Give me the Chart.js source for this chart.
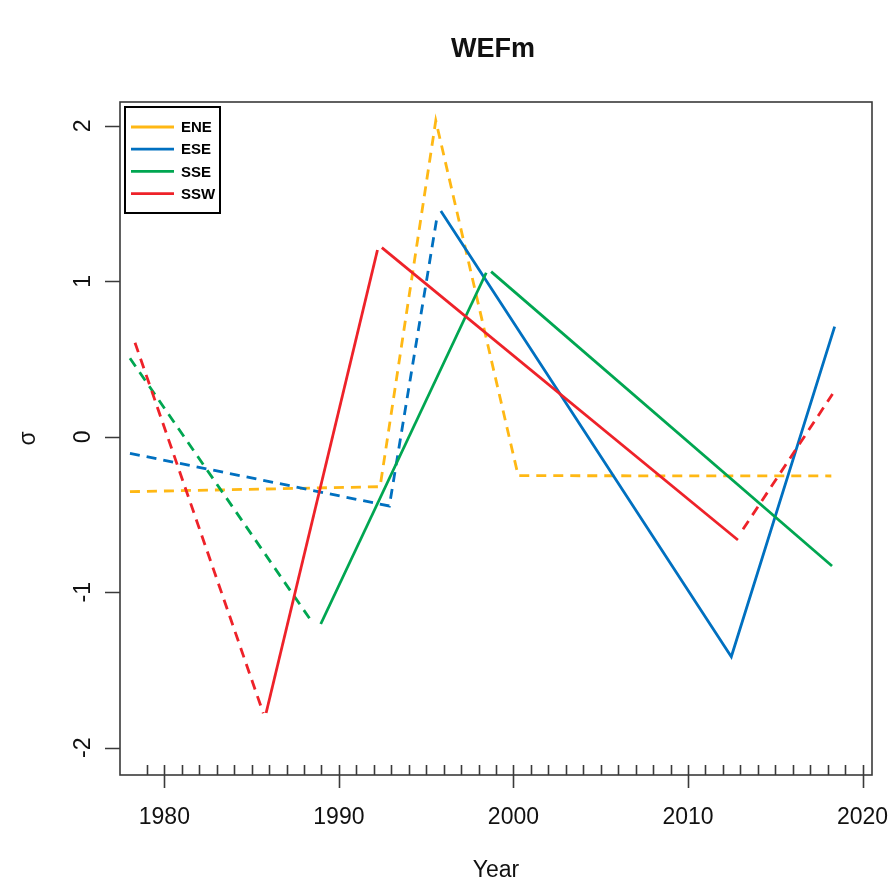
<!DOCTYPE html>
<html>
<head>
<meta charset="utf-8">
<title>WEFm</title>
<script src="https://cdn.jsdelivr.net/npm/chart.js@4.4.1/dist/chart.umd.min.js"></script>
<style>
  html, body { margin: 0; padding: 0; background: #fff; }
  #wrap { width: 889px; height: 882px; position: relative; }
</style>
</head>
<body>
<div id="wrap"><canvas id="chart"></canvas></div>
<script>
// series names / colours
const seriesNames = ['ENE', 'ESE', 'SSE', 'SSW'];
const seriesColors = ['#FFB814', '#0070C0', '#00A651', '#EE2229'];

// ENE, one dashed segment
const eneYears = [1978.03, 1992.36, 1995.55, 2000.27, 2018.21];
const eneVals = [-0.353, -0.321, 2.033, -0.250, -0.252];

// ESE
const eseDashYears = [1978.03, 1992.89, 1995.64];
const eseDashVals = [-0.106, -0.445, 1.426];
const eseSolidYears = [1995.84, 2012.48, 2018.40];
const eseSolidVals = [1.452, -1.414, 0.708];

// SSE
const sseDashYears = [1978.03, 1988.54];
const sseDashVals = [0.505, -1.204];
const sseSolid1Years = [1988.96, 1998.44];
const sseSolid1Vals = [-1.204, 1.055];
const sseSolid2Years = [1998.72, 2018.25];
const sseSolid2Vals = [1.062, -0.831];

// SSW
const sswDash1Years = [1978.32, 1985.67];
const sswDash1Vals = [0.605, -1.778];
const sswSolid1Years = [1985.83, 1992.21];
const sswSolid1Vals = [-1.776, 1.201];
const sswSolid2Years = [1992.46, 2012.86];
const sswSolid2Vals = [1.216, -0.664];
const sswDash2Years = [2013.15, 2018.28];
const sswDash2Vals = [-0.595, 0.275];

// axis ticks
const xTicks = [1980, 1990, 2000, 2010, 2020];
const xMinorTicks = [];
for (let y = 1979; y <= 2019; y++) xMinorTicks.push(y);
const yTicks = [-2, -1, 0, 1, 2];

const DASH = [10, 7];

function pts(xs, ys) {
  return xs.map((x, i) => ({ x: x, y: ys[i] }));
}

function seg(series, xs, ys, dashed) {
  return {
    label: seriesNames[series],
    data: pts(xs, ys),
    borderColor: seriesColors[series],
    backgroundColor: seriesColors[series],
    borderWidth: 2.8,
    borderDash: dashed ? DASH : [],
    pointRadius: 0,
    tension: 0,
    order: 4 - series,
  };
}

const datasets = [
  seg(0, eneYears, eneVals, true),
  seg(1, eseDashYears, eseDashVals, true),
  seg(1, eseSolidYears, eseSolidVals, false),
  seg(2, sseDashYears, sseDashVals, true),
  seg(2, sseSolid1Years, sseSolid1Vals, false),
  seg(2, sseSolid2Years, sseSolid2Vals, false),
  seg(3, sswDash1Years, sswDash1Vals, true),
  seg(3, sswSolid1Years, sswSolid1Vals, false),
  seg(3, sswSolid2Years, sswSolid2Vals, false),
  seg(3, sswDash2Years, sswDash2Vals, true),
];

// R-style box, ticks, labels, titles and legend
const rDecor = {
  id: 'rDecor',
  afterDraw(chart) {
    const ctx = chart.ctx;
    const a = chart.chartArea;
    const xs = chart.scales.x;
    const ys = chart.scales.y;
    ctx.save();
    ctx.strokeStyle = '#3a3a3a';
    ctx.lineWidth = 1.6;
    ctx.setLineDash([]);
    ctx.strokeRect(a.left, a.top, a.right - a.left, a.bottom - a.top);

    ctx.beginPath();
    xMinorTicks.forEach((v) => {
      const px = Math.round(xs.getPixelForValue(v)) + 0.5;
      ctx.moveTo(px, a.bottom - 10);
      ctx.lineTo(px, a.bottom);
    });
    xTicks.forEach((v) => {
      const px = Math.round(xs.getPixelForValue(v)) + 0.5;
      ctx.moveTo(px, a.bottom - 10);
      ctx.lineTo(px, a.bottom + 13);
    });
    yTicks.forEach((v) => {
      const py = Math.round(ys.getPixelForValue(v)) + 0.5;
      ctx.moveTo(a.left - 15, py);
      ctx.lineTo(a.left, py);
    });
    ctx.stroke();

    ctx.fillStyle = '#111';
    ctx.font = '23px "Liberation Sans", Arial, sans-serif';
    ctx.textAlign = 'center';
    ctx.textBaseline = 'alphabetic';
    xTicks.forEach((v) => {
      ctx.fillText(String(v), xs.getPixelForValue(v), 824);
    });
    yTicks.forEach((v) => {
      ctx.save();
      ctx.translate(90, ys.getPixelForValue(v));
      ctx.rotate(-Math.PI / 2);
      ctx.fillText(String(v), 0, 0);
      ctx.restore();
    });

    ctx.fillText('Year', (a.left + a.right) / 2, 877);
    ctx.save();
    ctx.translate(35, (a.top + a.bottom) / 2);
    ctx.rotate(-Math.PI / 2);
    ctx.fillText('σ', 0, 0);
    ctx.restore();

    ctx.font = 'bold 27px "Liberation Sans", Arial, sans-serif';
    ctx.fillText('WEFm', 493, 57);

    // legend
    ctx.strokeStyle = '#000';
    ctx.lineWidth = 2;
    ctx.strokeRect(125, 107, 95, 106);
    ctx.font = 'bold 15px "Liberation Sans", Arial, sans-serif';
    ctx.textAlign = 'left';
    ctx.textBaseline = 'middle';
    seriesNames.forEach((name, i) => {
      const y = 127 + i * 22.2;
      ctx.strokeStyle = seriesColors[i];
      ctx.lineWidth = 2.8;
      ctx.beginPath();
      ctx.moveTo(131, y);
      ctx.lineTo(174, y);
      ctx.stroke();
      ctx.fillStyle = '#000';
      ctx.fillText(name, 181, y + 1);
    });
    ctx.restore();
  },
};

function init() {
  new Chart(document.getElementById('chart'), {
    type: 'line',
    data: { datasets },
    options: {
      responsive: true,
      maintainAspectRatio: false,
      animation: false,
      layout: { padding: { top: 102, right: 17, bottom: 0, left: 0 } },
      plugins: { legend: { display: false }, tooltip: { enabled: false } },
      scales: {
        x: {
          type: 'linear',
          min: 1977.46,
          max: 2020.54,
          grid: { display: false },
          border: { display: false },
          ticks: { display: false },
          afterFit: (s) => { s.height = 107; },
        },
        y: {
          type: 'linear',
          min: -2.175,
          max: 2.153,
          grid: { display: false },
          border: { display: false },
          ticks: { display: false },
          afterFit: (s) => { s.width = 120; },
        },
      },
    },
    plugins: [rDecor],
  });
}

document.addEventListener('DOMContentLoaded', init);
</script>
</body>
</html>
